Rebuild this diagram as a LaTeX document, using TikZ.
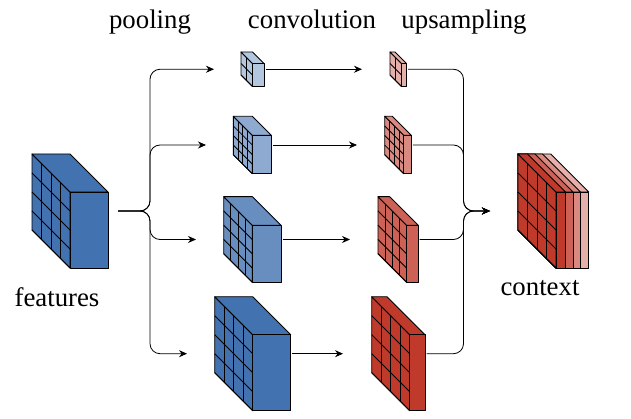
\documentclass[tikz,border=0pt]{standalone}
\usepackage{fontspec}
\setmainfont{Liberation Serif}
\usetikzlibrary{arrows.meta}
\definecolor{blueA}{RGB}{66,114,176}
\definecolor{redA}{RGB}{192,58,43}
\tikzset{
    face/.style={draw=black, line width=0.9pt, line join=round},
    gridline/.style={black, line width=0.8pt},
    link/.style={->, line width=0.8pt, rounded corners=10pt},
    label/.style={font=\fontsize{26.8}{32}\selectfont, inner sep=0pt, anchor=base},
}
% #1 name, #2 x, #3 y, #4 depth, #5 height, #6 width, #7 colour, #8 cells
\newcommand{\block}[8]{
    \begin{scope}[shift={(#2,#3)}]
        \filldraw[face, fill=#7] (0,0) -- (#4,#4) -- (#4,#4+#5) -- (0,#5) -- cycle;
        \filldraw[face, fill=#7] (0,0) -- (#6,0) -- (#4+#6,#4) -- (#4,#4) -- cycle;
        \filldraw[face, fill=#7] (#4,#4) rectangle (#4+#6,#4+#5);
        \foreach \i in {1,...,#8} {
            \draw[gridline] ({\i*#4/#8},{\i*#4/#8}) -- ++(0,#5);
            \draw[gridline] (0,{\i*#5/#8}) -- ++(#4,#4);
        }
        \coordinate (#1) at ({#4+#6},{(#4+#5)/2});
    \end{scope}
}
\begin{document}
\begin{tikzpicture}[x=1pt, y=-1pt, >={Stealth[length=8pt, width=7pt]}]
    \useasboundingbox (0,0) rectangle (631,419);

    \node (pooling) [label] at (150,29) {pooling};
    \node (convolution) [label] at (312,29) {convolution};
    \node (upsampling) [label] at (464,29) {upsampling};
    \node (features) [label] at (57,306) {features};
    \node (context) [label] at (540,295) {context};

    \block{feat}{32}{154}{38}{76}{38}{blueA}{4}

    \block{conv1}{241}{52}{11.5}{23}{11.5}{blueA!40}{2}
    \block{conv2}{233.3}{116.3}{19}{38.4}{19}{blueA!60}{4}
    \block{conv3}{223.7}{196.7}{28.6}{57}{28.7}{blueA!80}{4}
    \block{conv4}{214.7}{296.7}{38}{76}{38}{blueA}{4}

    \block{up1}{390}{52}{11.5}{23}{5}{redA!40}{2}
    \block{up2}{384.7}{116.3}{19}{38.4}{7.7}{redA!60}{4}
    \block{up3}{378}{196.7}{28.6}{57}{11.6}{redA!80}{4}
    \block{up4}{371.7}{296.7}{38}{76}{15.3}{redA}{4}

    \block{ctx4}{518}{154}{38}{76}{32.7}{redA!40}{4}
    \block{ctx3}{518}{154}{38}{76}{24.5}{redA!60}{4}
    \block{ctx2}{518}{154}{38}{76}{17}{redA!80}{4}
    \block{ctx1}{518}{154}{38}{76}{9.5}{redA}{4}

    \coordinate (split) at (150,211);
    \coordinate (merge) at (463.5,211);
    \coordinate (out) at (490,211);
    \coordinate (pool1) at (214,69.25);
    \coordinate (pool2) at (206,145);
    \coordinate (pool3) at (196,239.5);
    \coordinate (pool4) at (187,353.7);
    \coordinate (mid1) at (362,69.25);
    \coordinate (mid2) at (357,145);
    \coordinate (mid3) at (350,239.5);
    \coordinate (mid4) at (343,353.7);

    \foreach \n in {1,...,4} {
        \draw[link, shorten <=10pt] (feat) -- (split) |- (pool\n);
        \draw[link, shorten <=1.5pt] (conv\n) -- (mid\n);
        \draw[link, shorten <=1.5pt] (up\n) -| (merge) -- (out);
    }
\end{tikzpicture}
\end{document}
